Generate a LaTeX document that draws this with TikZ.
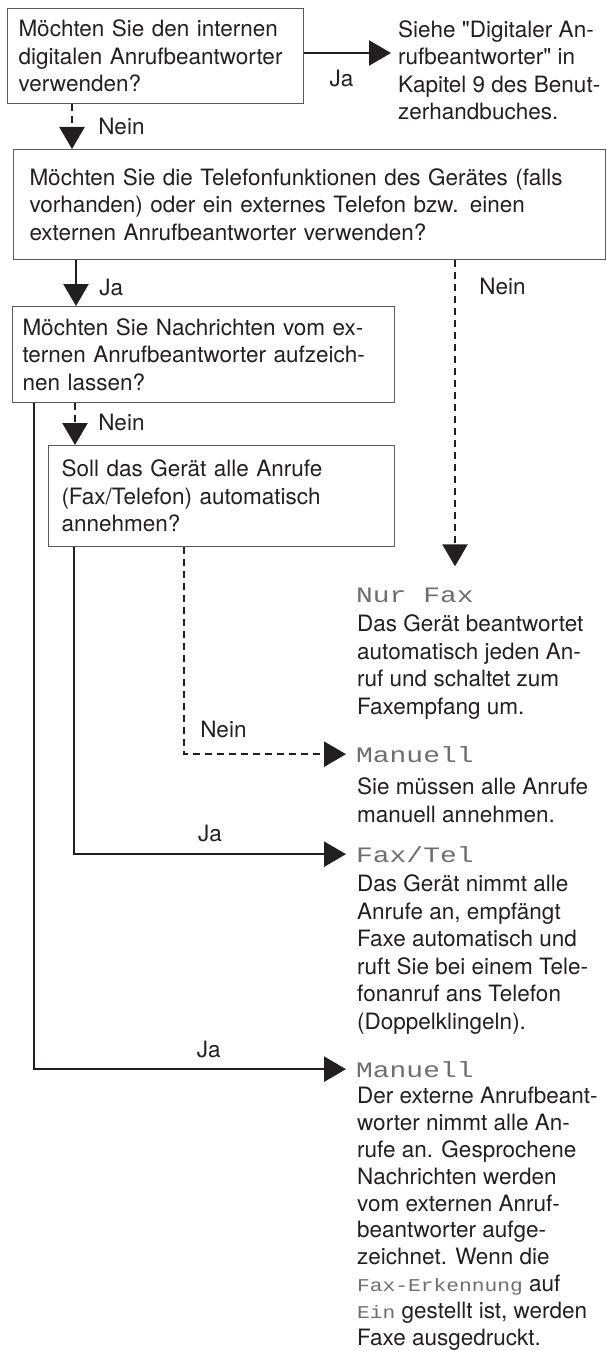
\documentclass[tikz,border=0pt]{standalone}
\usepackage{fontspec}
\setmainfont{TeX Gyre Heros}
\newfontfamily\lcdfont{Liberation Mono}[FakeStretch=1.27]
\newfontfamily\lcdsmallfont{Liberation Mono}[FakeStretch=1.18]
\usetikzlibrary{arrows.meta,positioning}
\definecolor{inkblack}{HTML}{231F20}
\definecolor{framegray}{HTML}{5A5A5A}
\definecolor{lcdgray}{HTML}{6E6E6E}
\newcommand{\bodyfont}{\fontsize{22.5}{27.5}\selectfont}
\newcommand{\lcd}[1]{{\lcdsmallfont\fontsize{18}{26.8}\selectfont\color{lcdgray}#1}}
\tikzset{
  qbox/.style={draw=framegray,line width=1pt,anchor=north west,align=left,font=\bodyfont,text=inkblack,inner ysep=0pt},
  answer/.style={anchor=base west,align=left,font=\bodyfont,text=inkblack,inner sep=0pt},
  mode/.style={anchor=base west,font=\lcdfont\fontsize{22}{27.5}\selectfont,text=lcdgray,inner xsep=10pt,inner ysep=0pt},
  yesline/.style={line width=2.5pt,inkblack,-{Triangle[length=22pt,width=25pt]}},
  noline/.style={yesline,dash pattern=on 7pt off 5pt},
  lbl/.style={font=\bodyfont,text=inkblack,inner sep=0pt}
}

\begin{document}
\begin{tikzpicture}[x=1pt,y=-1pt]
  \useasboundingbox (0,0) rectangle (606,1351);
  \node[qbox,text width=274pt,inner xsep=11pt,minimum height=95pt] (q1) at (7,8) {Möchten Sie den internen\\digitalen Anrufbeantworter\\verwenden?};
  \node[qbox,text width=560pt,inner xsep=16pt,minimum height=110pt] (q2) at (13,149) {Möchten Sie die Telefonfunktionen des Gerätes (falls\\vorhanden) oder ein externes Telefon bzw. einen\\externen Anrufbeantworter verwenden?};
  \node[qbox,text width=362pt,inner xsep=10pt,minimum height=96pt] (q3) at (12,306) {Möchten Sie Nachrichten vom ex-\\ternen Anrufbeantworter aufzeich-\\nen lassen?};
  \node[qbox,text width=320pt,inner xsep=13pt,minimum height=101pt] (q4) at (48,445) {Soll das Gerät alle Anrufe\\(Fax/Telefon) automatisch\\annehmen?};

  \node[answer] (handbuch) at (398,120) {Siehe \textquotedbl Digitaler An-\\rufbeantworter\textquotedbl{} in\\Kapitel 9 des Benut-\\zerhandbuches.};
  \node[mode] (nurfax) at (346,602) {Nur Fax};
  \node[answer] (nurfaxtext) at (357,714) {Das Gerät beantwortet\\automatisch jeden An-\\ruf und schaltet zum\\Faxempfang um.};
  \node[mode] (manuell) at (346,762) {Manuell};
  \node[answer] (manuelltext) at (357,822) {Sie müssen alle Anrufe\\manuell annehmen.};
  \node[mode] (faxtel) at (346,862) {Fax/Tel};
  \node[answer] (faxteltext) at (357,1029) {Das Gerät nimmt alle\\Anrufe an, empfängt\\Faxe automatisch und\\ruft Sie bei einem Tele-\\fonanruf ans Telefon\\(Doppelklingeln).};
  \node[mode] (extab) at (346,1077) {Manuell};
  \node[answer,font=\fontsize{22.5}{26.8}\selectfont] (extabtext) at (357,1345) {Der externe Anrufbeant-\\worter nimmt alle An-\\rufe an. Gesprochene\\Nachrichten werden\\vom externen Anruf-\\beantworter aufge-\\zeichnet. Wenn die\\\lcd{Fax-Erkennung} auf\\\lcd{Ein} gestellt ist, werden\\Faxe ausgedruckt.};

  \draw[yesline,shorten >=7pt] ([yshift=3pt]q1.east) -- ([yshift=3pt]q1.east -| handbuch.west) node[lbl,pos=0.4,below=16pt] {Ja};
  \draw[noline] ([xshift=65pt]q1.south west) -- ([xshift=65pt]q1.south west |- q2.north) node[lbl,pos=0.49,anchor=west,xshift=25pt] {Nein};
  \draw[yesline] ([xshift=63pt]q2.south west) -- ([xshift=63pt]q2.south west |- q3.north) node[lbl,pos=0.59,anchor=west,xshift=22pt] {Ja};
  \draw[noline,shorten >=21pt] ([xshift=442pt]q2.south west) -- ([xshift=442pt]q2.south west |- nurfax.north) node[lbl,pos=0.08,anchor=west,xshift=23pt] {Nein};
  \draw[noline] ([xshift=63pt]q3.south west) -- ([xshift=63pt]q3.south west |- q4.north) node[lbl,pos=0.47,anchor=west,xshift=22pt] {Nein};
  \draw[yesline] ([xshift=22pt]q3.south west) |- (extab.west) node[lbl,pos=0.78,above=10pt] {Ja};
  \draw[yesline] ([xshift=26pt]q4.south west) |- (faxtel.west) node[lbl,pos=0.75,above=11pt] {Ja};
  \draw[noline] ([xshift=136pt]q4.south west) |- (manuell.west) node[lbl,pos=0.44,anchor=west,xshift=15pt] {Nein};
\end{tikzpicture}
\end{document}
